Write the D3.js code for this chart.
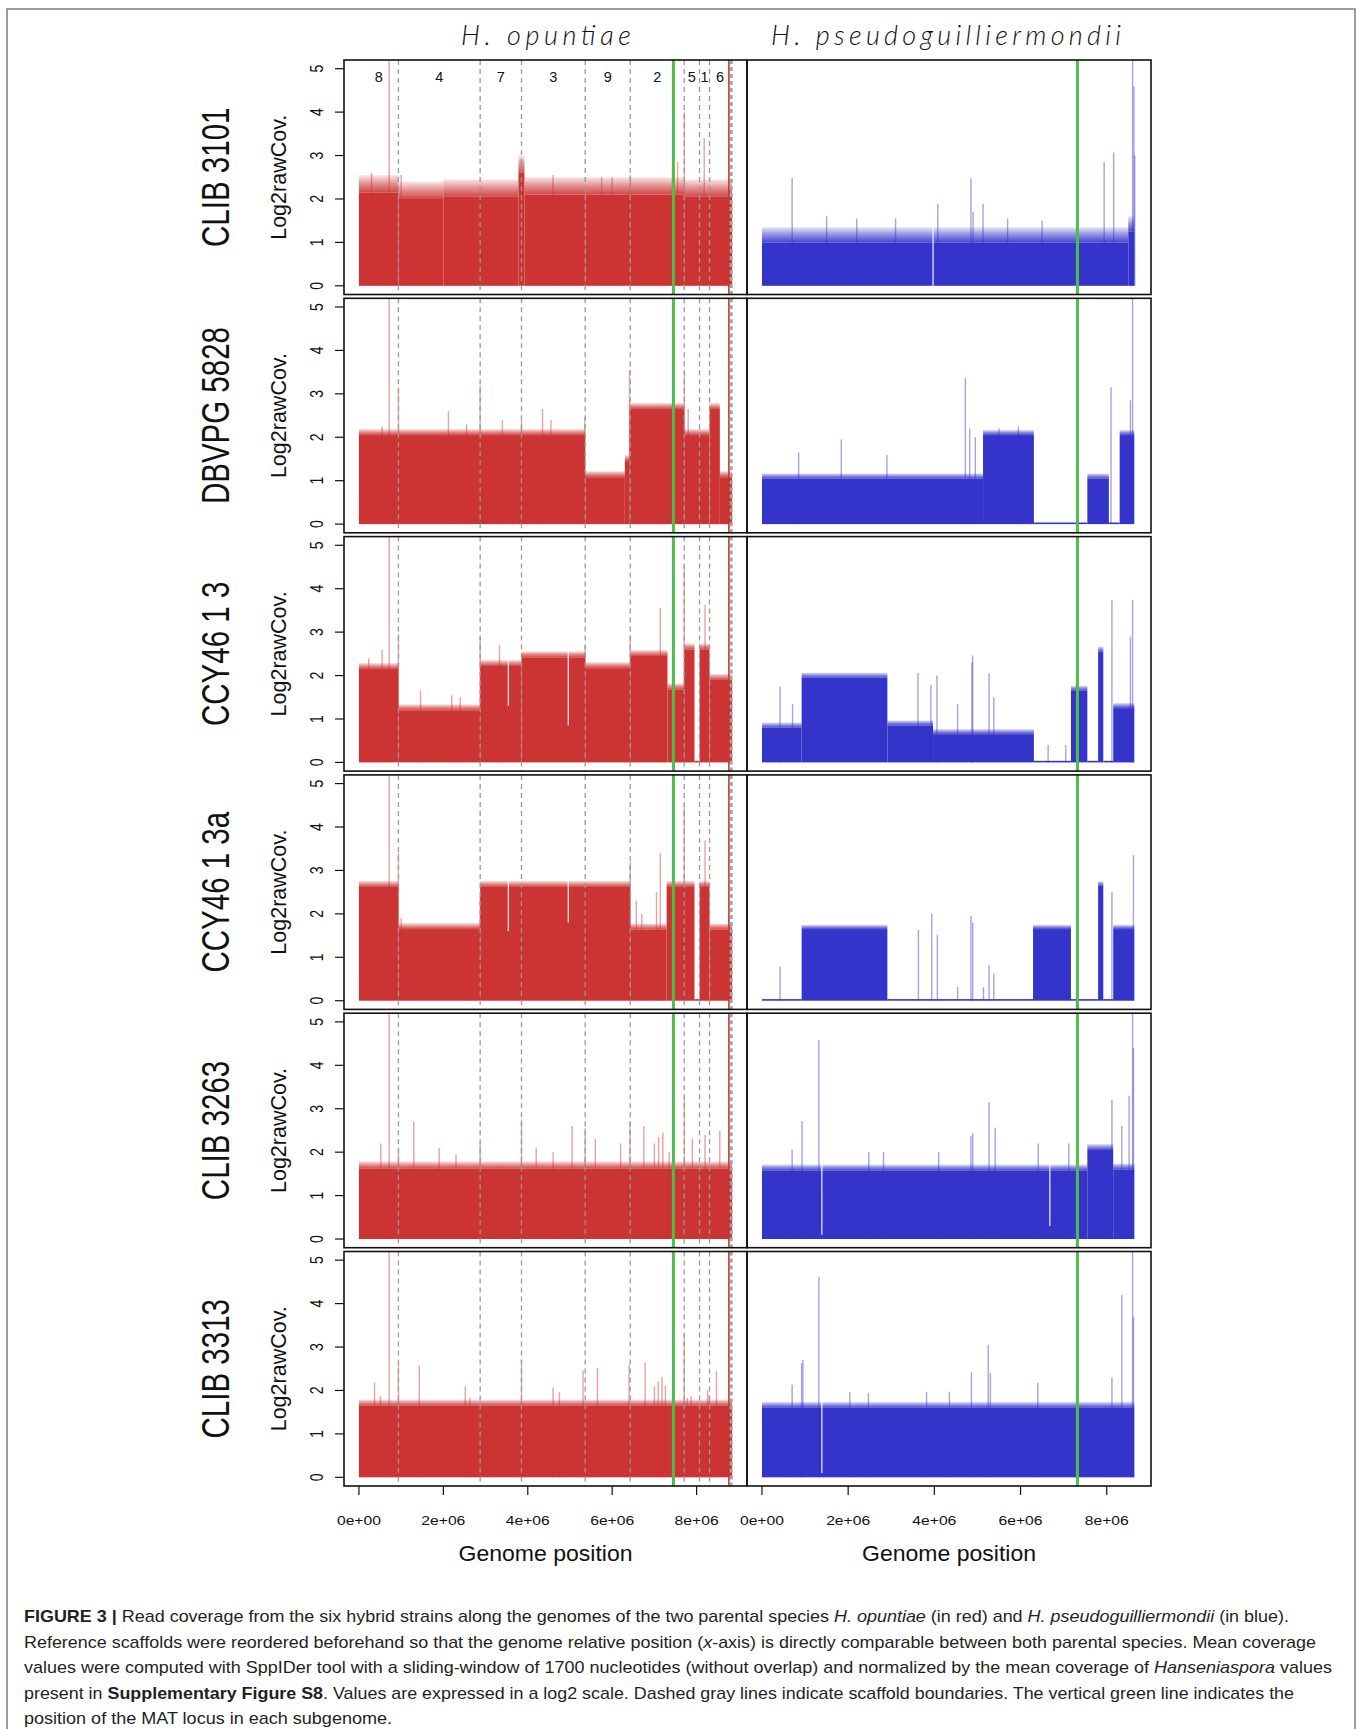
<!DOCTYPE html>
<html><head><meta charset="utf-8">
<script src="https://cdn.jsdelivr.net/npm/d3@7"></script>
<style>body{margin:0;background:#fff} svg{display:block}</style>
</head><body>
<svg id="c" width="1360" height="1729"></svg>
<script>
// ---------------- DATA (positions in Mb, values in log2 raw coverage) ----------------
const strains = ["CLIB 3101", "DBVPG 5828", "CCY46 1 3", "CCY46 1 3a", "CLIB 3263", "CLIB 3313"];
const species = ["H. opuntiae", "H. pseudoguilliermondii"];
const genomeLengths = [8.84, 8.68];
const matLocus = [7.45, 7.32];
const scaffoldNames = ["8", "4", "7", "3", "9", "2", "5", "1", "6"];
const scaffoldBounds = [0, 0.936, 2.872, 3.851, 5.36, 6.427, 7.706, 8.069, 8.306, 8.80];
const yTicks = [0, 1, 2, 3, 4, 5];
const xTicks = [0, 2e6, 4e6, 6e6, 8e6];
const xTickLabels = ["0e+00", "2e+06", "4e+06", "6e+06", "8e+06"];

// H. opuntiae copy-number segments [start, end, level]
const opLevels = [
  [[0,0.936,2.15],[0.936,2.0,2.0],[2.0,3.78,2.05],[3.78,3.92,2.6],[3.92,5.36,2.1],[5.36,6.427,2.1],[6.427,7.706,2.1],[7.706,8.84,2.05]],
  [[0,5.36,2.05],[5.36,6.3,1.08],[6.3,6.41,1.45],[6.41,7.706,2.65],[7.706,8.306,2.05],[8.306,8.55,2.65],[8.55,8.84,1.08]],
  [[0,0.936,2.15],[0.936,2.872,1.2],[2.872,3.851,2.22],[3.851,5.36,2.42],[5.36,6.427,2.17],[6.427,7.31,2.45],[7.31,7.706,1.68],[7.706,7.95,2.6],[7.95,8.07,0],[8.07,8.306,2.6],[8.306,8.84,1.9]],
  [[0,0.936,2.62],[0.936,2.872,1.65],[2.872,6.427,2.62],[6.427,7.29,1.64],[7.29,7.95,2.62],[7.95,8.07,0],[8.07,8.306,2.62],[8.306,8.84,1.64]],
  [[0,8.84,1.62]],
  [[0,8.84,1.65]]
];
const opFringe = [0.4, 0.14, 0.14, 0.14, 0.17, 0.14];
// isolated high windows [position, value]
const opSpikes = [
  [[0.716,5.3],[0.3,2.6],[1.0,2.55],[4.6,2.55],[5.75,2.5],[6.0,2.5],[6.43,2.55],[7.43,2.75],[7.55,2.85],[7.71,4.0],[8.18,3.4]],
  [[0.716,5.3],[0.55,2.25],[0.936,3.15],[2.12,2.6],[2.55,2.3],[2.872,3.2],[3.4,2.4],[3.851,2.4],[4.35,2.65],[4.55,2.4],[5.35,2.45],[6.41,3.55],[7.71,3.5],[7.8,2.65]],
  [[0.716,5.3],[0.23,2.4],[0.55,2.6],[0.936,2.95],[1.46,1.65],[2.2,1.55],[2.4,1.5],[2.872,2.9],[3.33,2.7],[5.36,2.7],[6.427,2.9],[7.14,3.55],[7.706,4.5],[8.2,3.63]],
  [[0.716,5.3],[0.936,3.4],[1.0,1.9],[2.872,2.4],[6.427,3.2],[6.57,2.3],[6.7,2.0],[7.05,2.5],[7.14,3.4],[7.706,4.5],[8.2,3.69]],
  [[0.716,5.3],[0.52,2.2],[0.936,2.1],[1.3,2.7],[1.9,2.1],[2.3,1.95],[2.872,2.2],[3.851,2.75],[4.2,2.1],[4.6,2.0],[5.05,2.6],[5.36,2.55],[5.6,2.3],[6.2,2.2],[6.42,2.7],[6.75,2.6],[7.0,2.2],[7.1,2.35],[7.2,2.45],[7.35,2.0],[7.71,3.3],[7.9,2.3],[8.2,2.4],[8.55,2.5]],
  [[0.37,2.18],[0.51,1.88],[0.716,5.3],[0.936,2.64],[1.43,2.57],[2.52,2.09],[2.63,1.83],[3.851,2.71],[4.6,2.07],[4.75,1.96],[5.31,2.46],[5.65,2.52],[6.4,2.59],[6.78,2.63],[7.0,2.1],[7.09,2.2],[7.18,2.31],[7.26,2.1],[7.706,3.3],[7.78,1.83],[7.87,1.87],[8.26,2.0],[8.3,1.88],[8.47,2.44]]
];
// low windows inside blocks [position, value]
const opDips = [
  [], [], [[3.54,1.3],[4.96,0.85]], [[3.54,1.6],[4.96,1.8]], [], []
];

// H. pseudoguilliermondii copy-number segments
const psLevels = [
  [[0,8.5,1.0],[8.5,8.64,1.25]],
  [[0,5.13,1.05],[5.13,6.31,2.05],[6.31,7.55,0.02],[7.55,8.05,1.05],[8.05,8.3,0.02],[8.3,8.64,2.05]],
  [[0,0.92,0.8],[0.92,2.91,1.95],[2.91,3.97,0.85],[3.97,6.31,0.65],[6.31,7.17,0.02],[7.17,7.55,1.65],[7.55,7.8,0.02],[7.8,7.92,2.55],[7.92,8.15,0.02],[8.15,8.64,1.25]],
  [[0,0.92,0.02],[0.92,2.91,1.65],[2.91,6.29,0.02],[6.29,7.17,1.65],[7.17,7.8,0.02],[7.8,7.92,2.65],[7.92,8.15,0.02],[8.15,8.64,1.65]],
  [[0,7.55,1.58],[7.55,8.15,2.05],[8.15,8.64,1.6]],
  [[0,8.64,1.6]]
];
const psFringe = [0.35, 0.12, 0.12, 0.1, 0.14, 0.14];
const psSpikes = [
  [[0.70,2.49],[1.5,1.6],[2.2,1.55],[3.1,1.55],[4.08,1.89],[4.85,2.47],[4.9,1.7],[5.13,1.89],[5.7,1.55],[6.5,1.5],[7.94,2.85],[8.16,3.07],[8.6,5.3],[8.63,4.59],[8.65,3.0]],
  [[0.85,1.65],[1.84,1.95],[2.9,1.6],[4.72,3.36],[4.82,2.2],[4.95,2.0],[5.5,2.2],[5.95,2.25],[8.1,3.15],[8.55,2.85],[8.6,5.3]],
  [[0.42,1.74],[0.71,1.34],[3.62,2.06],[3.92,1.79],[4.06,2.0],[4.54,1.34],[4.87,2.3],[4.89,2.46],[5.27,2.05],[5.38,1.5],[6.64,0.4],[7.05,0.4],[8.12,3.74],[8.55,2.9],[8.6,3.74]],
  [[0.42,0.78],[3.63,1.63],[3.94,2.0],[4.07,1.51],[4.54,0.32],[4.85,1.95],[4.89,1.8],[5.14,0.31],[5.27,0.82],[5.38,0.63],[8.12,2.5],[8.62,3.35]],
  [[0.70,2.06],[0.93,2.72],[1.32,4.58],[2.48,2.0],[2.82,2.0],[4.1,2.0],[4.85,2.37],[4.89,2.43],[5.27,3.15],[5.41,2.56],[6.41,2.2],[7.12,2.2],[8.12,3.2],[8.35,2.6],[8.52,3.3],[8.6,5.3],[8.62,4.4]],
  [[0.70,2.13],[0.92,2.63],[0.95,2.7],[1.32,4.62],[2.04,1.96],[2.47,1.94],[3.82,1.97],[4.35,1.97],[4.86,2.42],[5.25,3.05],[5.3,2.4],[6.4,2.18],[8.12,2.3],[8.35,4.2],[8.6,5.3],[8.62,3.7]]
];
const psDips = [
  [[3.97,0]], [], [], [], [[1.39,0.1],[6.68,0.3]], [[1.39,0.1]]
];

// ---------------- LAYOUT / STYLE ----------------
const speciesColor = ["#CC3333", "#3434CB"];
const greenCol = "#4DBE47";
const panelX = [[344, 747], [747, 1151]];
const rowTop0 = 60, rowStep = 238.3, rowH = 234.5;
const fontMain = "'Liberation Sans', Arial, Helvetica, sans-serif";

const svg = d3.select("#c");
svg.append("rect").attr("x", 7).attr("y", 9).attr("width", 1348).attr("height", 1740)
  .attr("fill", "none").attr("stroke", "#6a6a6a").attr("stroke-width", 1.3);

const defs = svg.append("defs");
speciesColor.forEach((c, s) => {
  const lg = defs.append("linearGradient").attr("id", `fade${s}`).attr("x1", 0).attr("y1", 1).attr("x2", 0).attr("y2", 0);
  lg.append("stop").attr("offset", 0).attr("stop-color", c).attr("stop-opacity", 0.9);
  lg.append("stop").attr("offset", 0.5).attr("stop-color", c).attr("stop-opacity", 0.55);
  lg.append("stop").attr("offset", 1).attr("stop-color", c).attr("stop-opacity", 0.12);
});
const levelsAll = [opLevels, psLevels], spikesAll = [opSpikes, psSpikes], dipsAll = [opDips, psDips], fringeAll = [opFringe, psFringe];

const xScales = genomeLengths.map((len, s) => d3.scaleLinear()
  .domain([-0.04 * len * 1e6, 1.04 * len * 1e6]).range(panelX[s]));

strains.forEach((strain, r) => {
  const top = rowTop0 + r * rowStep;
  const y = d3.scaleLinear().domain([-0.2, 5.2]).range([top + rowH, top]);
  [0, 1].forEach(s => {
    const x = xScales[s];
    const X = mb => x(mb * 1e6);
    const col = speciesColor[s];
    const cid = `clip${r}_${s}`;
    defs.append("clipPath").attr("id", cid).append("rect")
      .attr("x", panelX[s][0]).attr("y", top).attr("width", panelX[s][1] - panelX[s][0]).attr("height", rowH);
    const g = svg.append("g").attr("clip-path", `url(#${cid})`);
    const segs = levelsAll[s][r];
    const fr = fringeAll[s][r];
    // fringe (noisy top of the windows)
    g.selectAll("rect.fr").data(segs.filter(d => d[2] > 0.1)).enter().append("rect")
      .attr("x", d => X(d[0])).attr("width", d => Math.max(0.8, X(d[1]) - X(d[0])))
      .attr("y", d => y(d[2] + fr)).attr("height", d => y(d[2]) - y(d[2] + fr))
      .attr("fill", `url(#fade${s})`);
    // body
    g.selectAll("rect.body").data(segs).enter().append("rect")
      .attr("x", d => X(d[0])).attr("width", d => Math.max(0.8, X(d[1]) - X(d[0])))
      .attr("y", d => Math.min(y(d[2]), y(0) - 1.6)).attr("height", d => Math.max(1.6, y(0) - y(d[2])))
      .attr("fill", col);
    // spikes
    g.selectAll("line.sp").data(spikesAll[s][r]).enter().append("line")
      .attr("x1", d => X(d[0])).attr("x2", d => X(d[0]))
      .attr("y1", y(0)).attr("y2", d => y(d[1]))
      .attr("stroke", col).attr("stroke-width", 1.4).attr("opacity", 0.45);
    // dips
    const levelAt = p => { const sg = segs.find(d => p >= d[0] && p <= d[1]); return sg ? sg[2] : 0; };
    g.selectAll("line.dp").data(dipsAll[s][r]).enter().append("line")
      .attr("x1", d => X(d[0])).attr("x2", d => X(d[0]))
      .attr("y1", d => y(d[1])).attr("y2", d => y(levelAt(d[0]) + fr + 0.05))
      .attr("stroke", "#fff").attr("stroke-width", 1.3).attr("opacity", 0.85);
    if (s === 0) {
      // scaffold boundaries
      const inner = scaffoldBounds.slice(1, -1);
      g.selectAll("line.sb").data(inner).enter().append("line")
        .attr("x1", d => X(d)).attr("x2", d => X(d)).attr("y1", top).attr("y2", top + rowH)
        .attr("stroke", "#999").attr("stroke-width", 1.3).attr("stroke-dasharray", "5,4");
      const last = scaffoldBounds[scaffoldBounds.length - 1];
      g.append("line").attr("x1", X(last) - 1.5).attr("x2", X(last) - 1.5).attr("y1", top).attr("y2", top + rowH)
        .attr("stroke", col).attr("stroke-width", 1.6);
      g.append("line").attr("x1", X(last) + 0.8).attr("x2", X(last) + 0.8).attr("y1", top).attr("y2", top + rowH)
        .attr("stroke", "#a3a3a3").attr("stroke-width", 3).attr("stroke-dasharray", "4,3");
      if (r === 0) {
        const mids = scaffoldNames.map((n, i) => ({n, m: (scaffoldBounds[i] + scaffoldBounds[i + 1]) / 2}));
        svg.selectAll("text.scn").data(mids).enter().append("text")
          .attr("x", d => X(d.m)).attr("y", top + 22).attr("text-anchor", "middle")
          .attr("font-family", fontMain).attr("font-size", 14.5).attr("fill", "#111").text(d => d.n);
      }
    }
    // MAT locus
    g.append("line").attr("x1", X(matLocus[s])).attr("x2", X(matLocus[s])).attr("y1", top).attr("y2", top + rowH)
      .attr("stroke", greenCol).attr("stroke-width", 3);
    // frame
    svg.append("rect").attr("x", panelX[s][0]).attr("y", top).attr("width", panelX[s][1] - panelX[s][0]).attr("height", rowH)
      .attr("fill", "none").attr("stroke", "#111").attr("stroke-width", 1.6);
  });
  // y axis
  const ya = svg.append("g");
  yTicks.forEach(v => {
    ya.append("line").attr("x1", 335).attr("x2", panelX[0][0]).attr("y1", y(v)).attr("y2", y(v))
      .attr("stroke", "#111").attr("stroke-width", 1.2);
    ya.append("text").attr("transform", `translate(323,${y(v)}) rotate(-90) scale(1,1.25)`)
      .attr("text-anchor", "middle").attr("font-family", fontMain).attr("font-size", 14).attr("fill", "#111").text(v);
  });
  const cy = top + rowH / 2;
  svg.append("text").attr("transform", `translate(286,${cy}) rotate(-90)`).attr("text-anchor", "middle")
    .attr("font-family", fontMain).attr("font-size", 21.5).attr("fill", "#111").text("Log2rawCov.");
  svg.append("text").attr("transform", `translate(229,${cy}) rotate(-90) scale(1,1.3)`).attr("text-anchor", "middle")
    .attr("font-family", fontMain).attr("font-size", 29.5).attr("fill", "#111").text(strain);
});

// x axes
const bottom = rowTop0 + 5 * rowStep + rowH;
[0, 1].forEach(s => {
  const x = xScales[s];
  const g = svg.append("g");
  xTicks.forEach((t, i) => {
    g.append("line").attr("x1", x(t)).attr("x2", x(t)).attr("y1", bottom).attr("y2", bottom + 9)
      .attr("stroke", "#111").attr("stroke-width", 1.2);
    g.append("text").attr("x", x(t)).attr("y", bottom + 39).attr("text-anchor", "middle")
      .attr("font-family", fontMain).attr("font-size", 13.5).attr("textLength", 44).attr("lengthAdjust", "spacingAndGlyphs")
      .attr("fill", "#111").text(xTickLabels[i]);
  });
  const cx = (panelX[s][0] + panelX[s][1]) / 2;
  g.append("text").attr("x", cx).attr("y", bottom + 75).attr("text-anchor", "middle")
    .attr("font-family", fontMain).attr("font-size", 22).attr("textLength", 174).attr("lengthAdjust", "spacingAndGlyphs")
    .attr("fill", "#111").text("Genome position");
  // species titles
  svg.append("text").attr("x", s === 0 ? 546 : 946).attr("y", 45).attr("text-anchor", "middle")
    .attr("font-family", "Lato, 'DejaVu Sans', sans-serif").attr("font-style", "italic").attr("font-weight", 300)
    .attr("font-size", 27).attr("textLength", s === 0 ? 170 : 350).attr("lengthAdjust", "spacing")
    .attr("fill", "#111").text(species[s]);
});

// caption
const captionLines = [
  [["FIGURE 3 |", "b"], [" Read coverage from the six hybrid strains along the genomes of the two parental species ", ""], ["H. opuntiae", "i"], [" (in red) and ", ""], ["H. pseudoguilliermondii", "i"], [" (in blue).", ""]],
  [["Reference scaffolds were reordered beforehand so that the genome relative position (", ""], ["x", "i"], ["-axis) is directly comparable between both parental species. Mean coverage", ""]],
  [["values were computed with SppIDer tool with a sliding-window of 1700 nucleotides (without overlap) and normalized by the mean coverage of ", ""], ["Hanseniaspora", "i"], [" values", ""]],
  [["present in ", ""], ["Supplementary Figure S8", "b"], [". Values are expressed in a log2 scale. Dashed gray lines indicate scaffold boundaries. The vertical green line indicates the", ""]],
  [["position of the MAT locus in each subgenome.", ""]]
];
const captionWidths = [1265, 1292, 1308, 1270, 368];
captionLines.forEach((parts, i) => {
  const t = svg.append("text").attr("x", 24).attr("y", 1622 + i * 25.5)
    .attr("font-family", fontMain).attr("font-size", 17).attr("fill", "#231f20")
    .attr("textLength", captionWidths[i]).attr("lengthAdjust", "spacingAndGlyphs");
  parts.forEach(([txt, st]) => {
    const ts = t.append("tspan").text(txt);
    if (st === "b") ts.attr("font-weight", "bold");
    if (st === "i") ts.attr("font-style", "italic");
  });
});
</script>
</body></html>
